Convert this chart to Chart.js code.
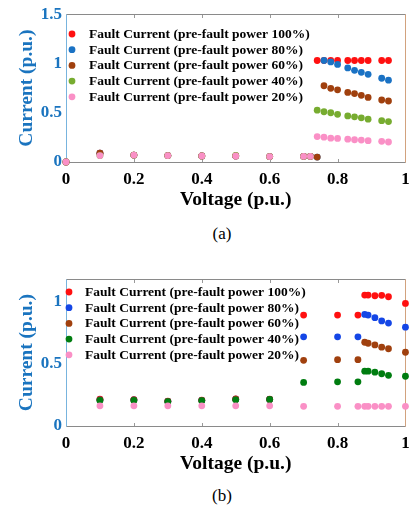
<!DOCTYPE html>
<html><head><meta charset="utf-8">
<script src="https://cdn.jsdelivr.net/npm/chart.js@4.4.1/dist/chart.umd.min.js"></script>
<style>
html,body{margin:0;padding:0;background:#fff;width:417px;height:514px;overflow:hidden;}
.box{position:absolute;left:0;width:417px;}
.cap{position:absolute;left:0;width:444px;text-align:center;font-family:'Liberation Serif',serif;font-size:17px;line-height:20px;color:#000;}
</style></head><body>
<div class="box" style="top:0;height:212px"><canvas id="cA"></canvas></div>
<div class="cap" style="top:224px">(a)</div>
<div class="box" style="top:265px;height:211px"><canvas id="cB"></canvas></div>
<div class="cap" style="top:486px">(b)</div>
<script>
// ---------- DATA ----------
const seriesLabels = [
  'Fault Current (pre-fault power 100%)',
  'Fault Current (pre-fault power 80%)',
  'Fault Current (pre-fault power 60%)',
  'Fault Current (pre-fault power 40%)',
  'Fault Current (pre-fault power 20%)'
];
const xTicks = [0, 0.2, 0.4, 0.6, 0.8, 1];
const yTicksA = [0, 0.5, 1, 1.5];
const yTicksB = [0, 0.5, 1];

// (a)
const xA_red   = [0,0.1,0.2,0.3,0.4,0.5,0.6,0.7,0.72,0.74,0.76,0.78,0.80,0.83,0.85,0.87,0.89,0.93,0.95];
const yA_red   = [0,0.09,0.07,0.065,0.062,0.062,0.055,0.058,0.058,1.03,1.03,1.03,1.03,1.03,1.03,1.03,1.03,1.03,1.03];
const xA_blue  = [0,0.1,0.2,0.3,0.4,0.5,0.6,0.7,0.72,0.74,0.76,0.78,0.80,0.83,0.85,0.87,0.89,0.93,0.95];
const yA_blue  = [0,0.09,0.07,0.065,0.062,0.062,0.055,0.058,0.058,0.05,1.03,1.016,0.99,0.955,0.93,0.91,0.89,0.85,0.83];
const xA_brown = [0,0.1,0.2,0.3,0.4,0.5,0.6,0.7,0.72,0.74,0.76,0.78,0.80,0.83,0.85,0.87,0.89,0.93,0.95];
const yA_brown = [0,0.09,0.07,0.065,0.062,0.062,0.055,0.058,0.058,0.05,0.774,0.748,0.732,0.706,0.694,0.677,0.655,0.629,0.619];
const xA_green = [0,0.1,0.2,0.3,0.4,0.5,0.6,0.7,0.72,0.74,0.76,0.78,0.80,0.83,0.85,0.87,0.89,0.93,0.95];
const yA_green = [0,0.065,0.07,0.065,0.062,0.066,0.055,0.058,0.058,0.526,0.51,0.50,0.484,0.468,0.458,0.448,0.435,0.419,0.41];
const xA_pink  = [0,0.1,0.2,0.3,0.4,0.5,0.6,0.7,0.72,0.74,0.76,0.78,0.80,0.83,0.85,0.87,0.89,0.93,0.95];
const yA_pink  = [0,0.065,0.07,0.065,0.062,0.062,0.055,0.058,0.058,0.258,0.252,0.242,0.239,0.232,0.226,0.223,0.216,0.21,0.203];

// (b)
const xB = [0.1,0.2,0.3,0.4,0.5,0.6,0.7,0.8,0.86,0.88,0.89,0.91,0.93,0.95,1.0];
const yB_red   = [0.215,0.212,0.2,0.208,0.218,0.215,0.892,0.892,0.892,1.052,1.052,1.047,1.05,1.039,0.985];
const yB_blue  = [0.21,0.21,0.198,0.206,0.215,0.213,0.717,0.717,0.717,0.897,0.892,0.871,0.845,0.827,0.794];
const yB_brown = [0.21,0.21,0.198,0.206,0.215,0.213,0.528,0.533,0.533,0.673,0.665,0.652,0.634,0.621,0.593];
const yB_green = [0.205,0.205,0.195,0.203,0.21,0.213,0.35,0.355,0.355,0.441,0.441,0.433,0.42,0.407,0.4];
const yB_pink  = [0.162,0.162,0.162,0.162,0.162,0.162,0.158,0.158,0.158,0.158,0.158,0.158,0.158,0.158,0.158];

// ---------- STYLE ----------
const colorsA = ['#ff1010', '#1a72c4', '#a0400e', '#77ac30', '#fa90c6'];
const colorsB = ['#ff1010', '#1446e6', '#a0400e', '#007d10', '#fa90c6'];
const SERIF = "'Liberation Serif', 'Times New Roman', serif";
const AXBLUE = '#1a74bf';

const pts = (xs, ys) => xs.map((x, i) => ({x, y: ys[i]}));

const framePlugin = {
  id: 'frame',
  beforeDatasetsDraw(chart, args, o) {
    const {ctx, chartArea: a, scales} = chart;
    ctx.save();
    ctx.lineWidth = 1;
    const L = (x1, y1, x2, y2, c) => { ctx.strokeStyle = c; ctx.beginPath(); ctx.moveTo(x1, y1); ctx.lineTo(x2, y2); ctx.stroke(); };
    const l = Math.round(a.left) + 0.5, r = Math.round(a.right) + 0.5, t = Math.round(a.top) + 0.5, b = Math.round(a.bottom) + 0.5;
    scales.x.ticks.forEach(tk => {
      const px = Math.round(scales.x.getPixelForValue(tk.value)) + 0.5;
      L(px, b, px, b - 3.5, '#999');
      L(px, t, px, t + 3.5, '#999');
    });
    L(l, t, r, t, '#8a8a8a');
    L(l, b, r, b, '#8a8a8a');
    L(r, t, r, b, '#d2a27e');
    L(l, t, l, b, '#78b4de');
    ctx.restore();
  },
  afterDatasetsDraw(chart, args, o) {
    const {ctx} = chart;
    ctx.save();
    ctx.font = 'bold 13.5px ' + SERIF;
    ctx.textBaseline = 'middle';
    ctx.textAlign = 'left';
    chart.data.datasets.forEach((ds, i) => {
      const y = o.ly + i * o.gap;
      ctx.fillStyle = ds.backgroundColor;
      ctx.beginPath(); ctx.arc(o.lx, y, 3.4, 0, Math.PI * 2); ctx.fill();
      ctx.fillStyle = '#000';
      ctx.fillText(ds.label, o.tx, y + 0.5);
    });
    ctx.restore();
  }
};

function makeChart(id, datasets, yMax, yTicks, legendPos) {
  return new Chart(document.getElementById(id), {
    type: 'scatter',
    data: {datasets},
    options: {
      responsive: true, maintainAspectRatio: false, animation: false, devicePixelRatio: 1,
      layout: {padding: {top: 8, right: 9, left: 0, bottom: 0}},
      plugins: {legend: {display: false}, tooltip: {enabled: false}, frame: legendPos},
      scales: {
        x: {
          type: 'linear', min: 0, max: 1,
          afterBuildTicks: s => { s.ticks = xTicks.map(v => ({value: v})); },
          afterFit: s => { s.height = 50; },
          grid: {display: false, drawTicks: false},
          border: {display: false},
          ticks: {padding: 7.3, color: '#000', font: {family: SERIF, size: 17, weight: 'bold'}, callback: v => String(v)},
          title: {display: true, text: 'Voltage (p.u.)', color: '#000', padding: {top: 0, bottom: 0.6},
                  font: {family: SERIF, size: 19.5, weight: 'bold'}}
        },
        y: {
          type: 'linear', min: 0, max: yMax,
          afterBuildTicks: s => { s.ticks = yTicks.map(v => ({value: v})); },
          afterFit: s => { s.width = 66; },
          grid: {display: false, drawTicks: false},
          border: {display: false},
          ticks: {padding: 4, color: AXBLUE, font: {family: SERIF, size: 17, weight: 'bold'}, callback: v => String(v)},
          title: {display: true, text: 'Current (p.u.)', color: AXBLUE, padding: {top: 15.3, bottom: 0},
                  font: {family: SERIF, size: 19.5, weight: 'bold'}}
        }
      }
    },
    plugins: [framePlugin]
  });
}

function ds(label, color, data, order) {
  return {label, data, backgroundColor: color, borderColor: color, borderWidth: 0,
          pointRadius: 3.4, pointHoverRadius: 3.4, showLine: false, clip: false, order};
}

makeChart('cA', [
  ds(seriesLabels[0], colorsA[0], pts(xA_red, yA_red), 5),
  ds(seriesLabels[1], colorsA[1], pts(xA_blue, yA_blue), 4),
  ds(seriesLabels[2], colorsA[2], pts(xA_brown, yA_brown), 3),
  ds(seriesLabels[3], colorsA[3], pts(xA_green, yA_green), 2),
  ds(seriesLabels[4], colorsA[4], pts(xA_pink, yA_pink), 1)
], 1.5, yTicksA, {lx: 72, ly: 34, gap: 15.7, tx: 89});

makeChart('cB', [
  ds(seriesLabels[0], colorsB[0], pts(xB, yB_red), 5),
  ds(seriesLabels[1], colorsB[1], pts(xB, yB_blue), 4),
  ds(seriesLabels[2], colorsB[2], pts(xB, yB_brown), 3),
  ds(seriesLabels[3], colorsB[3], pts(xB, yB_green), 2),
  ds(seriesLabels[4], colorsB[4], pts(xB, yB_pink), 1)
], 1.18, yTicksB, {lx: 69, ly: 27, gap: 15.7, tx: 85});
</script>
</body></html>
